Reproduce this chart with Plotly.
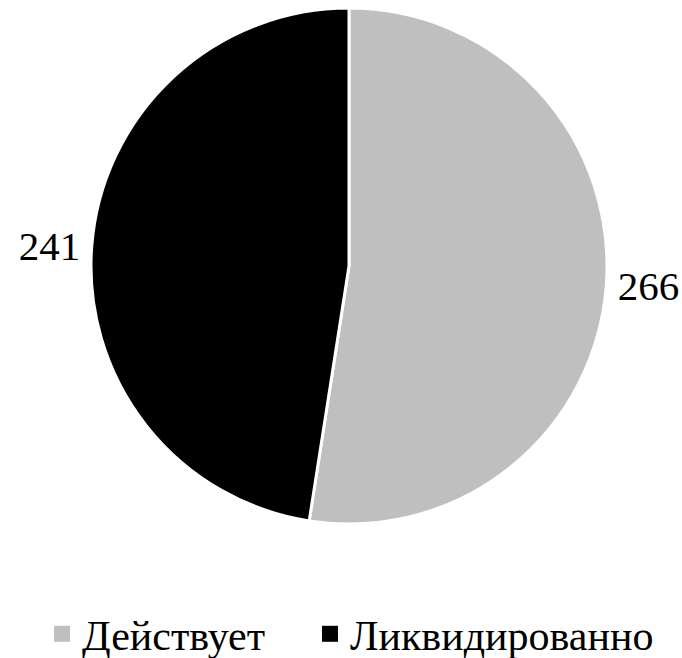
import plotly.graph_objects as go

labels = ["Действует", "Ликвидированно"]
values = [266, 241]
colors = ["#BFBFBF", "#000000"]

SERIF = "Liberation Serif"

W, H = 682, 658
CX, CY, R = 349, 266, 258  # pie centre / radius in figure pixels (from top-left)

fig = go.Figure()

fig.add_trace(go.Pie(
    labels=labels,
    values=values,
    marker=dict(colors=colors, line=dict(color="white", width=3)),
    sort=False,
    direction="clockwise",
    rotation=0,
    textinfo="value",
    textposition="outside",
    textfont=dict(family=SERIF, size=41, color="black"),
    domain=dict(x=[(CX - R) / W, (CX + R) / W],
                y=[(H - CY - R) / H, min(1.0, (H - CY + R) / H)]),
    showlegend=False,
))

# legend entries (one legend box per item so each can be placed like the reference)
legend_ids = ["legend", "legend2"]
for lab, col, lid in zip(labels, colors, legend_ids):
    fig.add_trace(go.Scatter(
        x=[None], y=[None], mode="markers", name=lab,
        marker=dict(symbol="square", size=16, color=col),
        legend=lid, showlegend=True, hoverinfo="skip",
    ))

legend_font = dict(family=SERIF, size=42, color="black")
fig.update_layout(
    width=W, height=H,
    margin=dict(l=0, r=0, t=0, b=0, autoexpand=False),
    paper_bgcolor="white",
    plot_bgcolor="white",
    font=dict(family=SERIF, color="black"),
    xaxis=dict(visible=False),
    yaxis=dict(visible=False),
    legend=dict(
        orientation="h", x=42 / W, xanchor="left",
        y=24 / H, yanchor="middle",
        font=legend_font, itemwidth=30, bgcolor="rgba(0,0,0,0)",
    ),
    legend2=dict(
        orientation="h", x=310 / W, xanchor="left",
        y=24 / H, yanchor="middle",
        font=legend_font, itemwidth=30, bgcolor="rgba(0,0,0,0)",
    ),
)

# remove the browser's default page margin / scrollbars so the figure fills the window
fig.write_html(
    "out.html",
    config={"displayModeBar": False},
    post_script="document.body.style.margin='0';"
                "document.documentElement.style.overflow='hidden';"
                "document.body.style.overflow='hidden';",
)
